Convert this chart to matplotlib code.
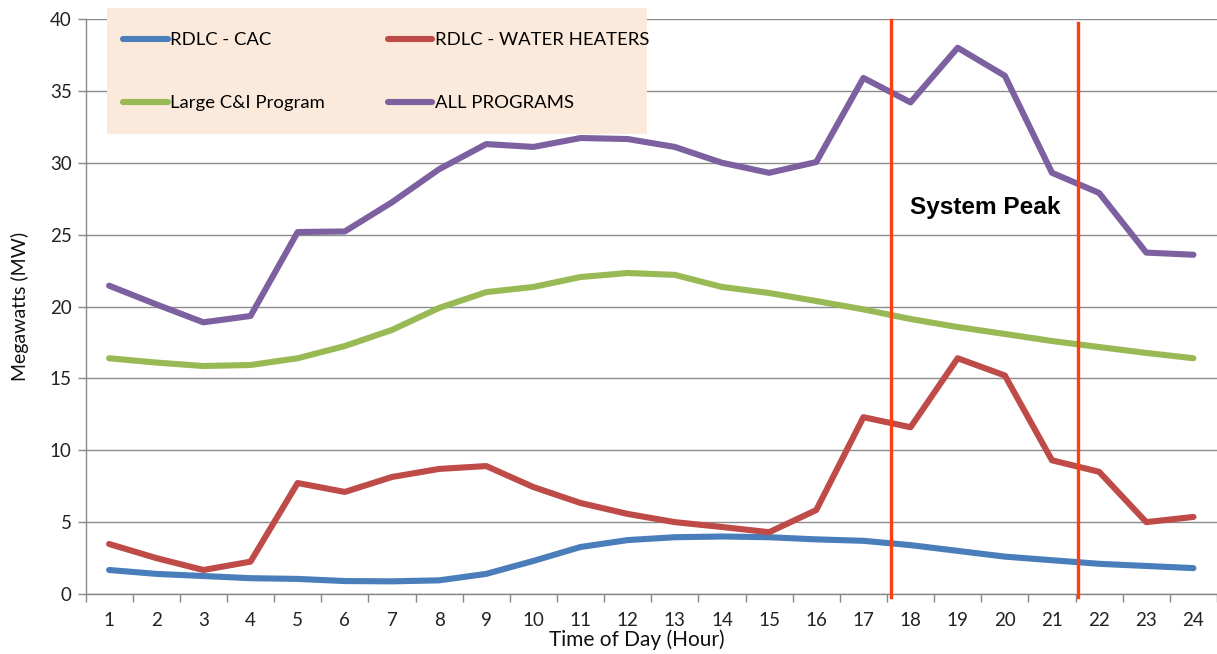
import matplotlib
matplotlib.use("Agg")
import matplotlib.pyplot as plt
from matplotlib.patches import Rectangle

hours = list(range(1, 25))
cac = [1.67, 1.4, 1.25, 1.1, 1.05, 0.9, 0.88, 0.95, 1.4, 2.3, 3.27, 3.75, 3.95, 4.0, 3.95, 3.8,
       3.7, 3.4, 3.0, 2.6, 2.35, 2.1, 1.95, 1.8]
water = [3.48, 2.5, 1.67, 2.25, 7.72, 7.1, 8.14, 8.7, 8.9, 7.44, 6.33, 5.57, 5.0, 4.66, 4.3, 5.84,
         12.3, 11.6, 16.4, 15.2, 9.3, 8.5, 5.0, 5.36]
large_ci = [16.4, 16.1, 15.86, 15.93, 16.4, 17.25, 18.37, 19.9, 21.0, 21.36, 22.05, 22.33, 22.2,
            21.36, 20.94, 20.38, 19.8, 19.13, 18.57, 18.09, 17.6, 17.18, 16.77, 16.4]
all_prog = [21.45, 20.15, 18.9, 19.34, 25.18, 25.22, 27.25, 29.55, 31.3, 31.1, 31.72, 31.65, 31.1,
            30.0, 29.3, 30.05, 35.9, 34.2, 38.0, 36.05, 29.3, 27.9, 23.75, 23.6]
peak_bounds = [17.58, 21.55]
labels = ["RDLC - CAC", "RDLC - WATER HEATERS", "Large C&I Program", "ALL PROGRAMS"]
colors = ["#4A7EBB", "#BE4B48", "#98B954", "#7D60A0"]

plt.rcParams['font.family'] = ['Lato', 'DejaVu Sans']

fig = plt.figure(figsize=(12.17, 6.54), dpi=100)
W, H = 1217, 654
left, right, top, bottom = 85.5, 1217, 19, 594
ax = fig.add_axes([left / W, 1 - bottom / H, (right - left) / W, (bottom - top) / H])

# legend background
fig.patches.append(Rectangle((107 / W, 1 - 134 / H), 540 / W, 126 / H, transform=fig.transFigure,
                             facecolor="#FBEADB", edgecolor="none", zorder=0.5))

handles = []
for series, lab, c in zip([cac, water, large_ci, all_prog], labels, colors):
    h, = ax.plot(hours, series, color=c, lw=4.4, solid_capstyle='round', solid_joinstyle='round',
                 label=lab, zorder=3)
    handles.append(h)

for xb, ytop in zip(peak_bounds, [39.9, 39.75]):
    ax.plot([xb, xb], [-0.2, ytop], color="#FF3F0F", lw=2.4, zorder=4, clip_on=False)

ax.text(17.98, 26.9, "System Peak", fontsize=17.6, fontweight='bold', family='Liberation Sans',
        va='center', ha='left', zorder=5)

ax.set_xlim(0.5, 24.5)
ax.set_ylim(0, 40)
ax.set_yticks(range(0, 41, 5))
ax.set_xticks(hours)
ax.set_xticks([h + 0.5 for h in range(0, 25)], minor=True)
ax.tick_params(axis='x', which='major', length=0, pad=13, labelsize=13.5, colors='#222222')
ax.tick_params(axis='x', which='minor', length=6, color='#888888', width=1)
ax.tick_params(axis='y', length=6, color='#888888', width=1, labelsize=13.5, colors='#222222', pad=4)
ax.grid(axis='y', color='#8C8C8C', lw=1)
ax.set_axisbelow(True)
for s in ['top', 'right']:
    ax.spines[s].set_visible(False)
for s in ['left', 'bottom']:
    ax.spines[s].set_color('#888888')
    ax.spines[s].set_linewidth(1)

ax.set_xlabel("Time of Day (Hour)", fontsize=15, color='#111111')
ax.xaxis.set_label_coords(0.4874, -0.062)
ax.set_ylabel("Megawatts (MW)", fontsize=14, labelpad=15, color='#111111')

leg = fig.legend(handles=[handles[0], handles[2], handles[1], handles[3]],
                 labels=[labels[0], labels[2], labels[1], labels[3]], ncol=2,
                 loc='upper left', bbox_to_anchor=(114 / W, 1 - 23 / H), frameon=False,
                 fontsize=13.3, handlelength=2.4, handletextpad=0.15, columnspacing=3.4,
                 labelspacing=2.55, borderpad=0)
leg.set_zorder(6)

fig.savefig("out.png", dpi=100)
